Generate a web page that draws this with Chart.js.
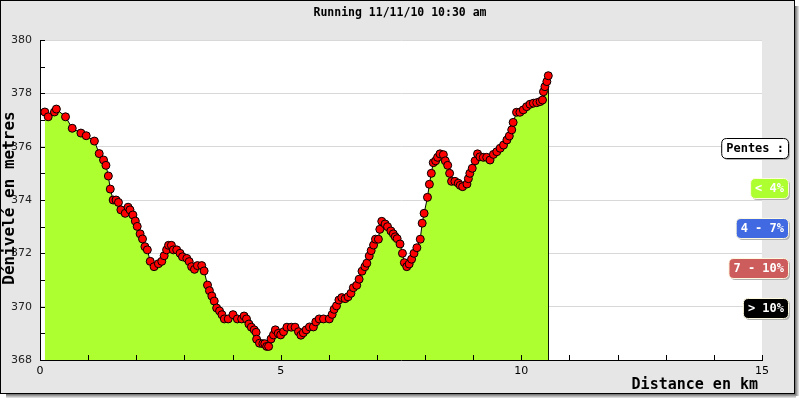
<!DOCTYPE html>
<html>
<head>
<meta charset="utf-8">
<script src="https://cdn.jsdelivr.net/npm/chart.js@4"></script>
<style>
  body { margin: 0; background: #fff; }
  #wrap { width: 800px; height: 400px; }
</style>
</head>
<body>
<div id="wrap"><canvas id="myChart" width="800" height="400"></canvas></div>
<script>
const distanceKm = [
  0.10, 0.17, 0.30, 0.34, 0.53, 0.67, 0.85, 0.96, 1.13, 1.23, 1.32, 1.37, 1.42, 1.46, 1.52, 1.58,
  1.63, 1.68, 1.77, 1.83, 1.87, 1.93, 1.98, 2.02, 2.08, 2.13, 2.18, 2.23, 2.29, 2.37, 2.46, 2.53,
  2.58, 2.63, 2.67, 2.73, 2.77, 2.84, 2.91, 2.96, 3.05, 3.10, 3.15, 3.21, 3.27, 3.36, 3.41, 3.48,
  3.52, 3.57, 3.62, 3.67, 3.73, 3.78, 3.83, 3.91, 4.01, 4.10, 4.19, 4.24, 4.29, 4.34, 4.39, 4.45,
  4.49, 4.50, 4.56, 4.63, 4.67, 4.71, 4.75, 4.80, 4.85, 4.89, 4.95, 5.00, 5.06, 5.13, 5.22, 5.30,
  5.37, 5.42, 5.47, 5.53, 5.60, 5.68, 5.73, 5.80, 5.89, 6.01, 6.07, 6.11, 6.16, 6.21, 6.27, 6.34,
  6.40, 6.46, 6.51, 6.58, 6.63, 6.69, 6.75, 6.79, 6.84, 6.88, 6.93, 6.97, 7.03, 7.06, 7.10, 7.17,
  7.22, 7.29, 7.34, 7.38, 7.42, 7.48, 7.53, 7.57, 7.62, 7.67, 7.72, 7.77, 7.83, 7.90, 7.94, 7.98,
  8.05, 8.09, 8.13, 8.17, 8.22, 8.26, 8.31, 8.38, 8.42, 8.47, 8.51, 8.55, 8.62, 8.69, 8.73, 8.78,
  8.87, 8.90, 8.93, 8.98, 9.04, 9.09, 9.14, 9.21, 9.28, 9.35, 9.42, 9.49, 9.56, 9.63, 9.70, 9.75,
  9.80, 9.83, 9.90, 9.97, 10.04, 10.11, 10.18, 10.25, 10.32, 10.39, 10.44, 10.46, 10.49, 10.53, 10.56
];
const altitudeM = [
  377.30, 377.12, 377.30, 377.41, 377.12, 376.69, 376.51, 376.41, 376.21, 375.74, 375.50, 375.30, 374.90, 374.41, 374.00, 374.00,
  373.91, 373.63, 373.50, 373.73, 373.63, 373.44, 373.21, 373.01, 372.73, 372.54, 372.25, 372.13, 371.70, 371.50, 371.61, 371.70,
  371.91, 372.13, 372.30, 372.30, 372.13, 372.13, 372.00, 371.87, 371.81, 371.69, 371.50, 371.40, 371.54, 371.54, 371.34, 370.81,
  370.60, 370.40, 370.21, 369.95, 369.84, 369.70, 369.54, 369.54, 369.70, 369.54, 369.54, 369.65, 369.54, 369.35, 369.23, 369.13,
  369.04, 368.78, 368.63, 368.61, 368.61, 368.51, 368.51, 368.79, 368.94, 369.13, 369.00, 368.94, 369.06, 369.23, 369.23, 369.23,
  369.06, 368.93, 369.02, 369.13, 369.24, 369.24, 369.43, 369.54, 369.54, 369.54, 369.71, 369.90, 370.03, 370.25, 370.34, 370.30,
  370.37, 370.50, 370.71, 370.80, 371.03, 371.33, 371.50, 371.63, 371.90, 372.10, 372.31, 372.53, 372.53, 372.90, 373.20, 373.10,
  373.00, 372.84, 372.73, 372.62, 372.55, 372.35, 372.00, 371.65, 371.50, 371.60, 371.78, 372.00, 372.21, 372.53, 373.13, 373.50,
  374.10, 374.59, 375.00, 375.40, 375.47, 375.60, 375.73, 375.70, 375.47, 375.30, 375.00, 374.70, 374.70, 374.63, 374.55, 374.50,
  374.60, 374.80, 375.00, 375.19, 375.47, 375.73, 375.62, 375.60, 375.60, 375.50, 375.71, 375.81, 375.94, 376.06, 376.25, 376.40,
  376.63, 376.91, 377.29, 377.29, 377.38, 377.50, 377.59, 377.63, 377.65, 377.69, 377.75, 378.06, 378.25, 378.44, 378.66
];

// axes
const xMin = 0, xMax = 15;
const yMin = 368, yMax = 380;

// legende des pentes
const slopeLabels = ['< 4%', '4 - 7%', '7 - 10%', '> 10%'];
const slopeColors = ['#adff2f', '#4169e1', '#cd5c5c', '#000000'];

const points = distanceKm.map((d, i) => ({ x: d, y: altitudeM[i] }));
const last = points[points.length - 1];

const MONO = '"DejaVu Sans Mono", "Liberation Mono", monospace';

function roundRect(ctx, x, y, w, h, r) {
  ctx.beginPath();
  ctx.moveTo(x + r, y);
  ctx.lineTo(x + w - r, y);
  ctx.quadraticCurveTo(x + w, y, x + w, y + r);
  ctx.lineTo(x + w, y + h - r);
  ctx.quadraticCurveTo(x + w, y + h, x + w - r, y + h);
  ctx.lineTo(x + r, y + h);
  ctx.quadraticCurveTo(x, y + h, x, y + h - r);
  ctx.lineTo(x, y + r);
  ctx.quadraticCurveTo(x, y, x + r, y);
  ctx.closePath();
}

// fond gris, cadre et ombre
const framePlugin = {
  id: 'frame',
  beforeDraw(chart) {
    const ctx = chart.ctx;
    const a = chart.chartArea;
    ctx.save();
    ctx.fillStyle = '#ffffff';
    ctx.fillRect(0, 0, 800, 400);
    // ombre
    const shades = ['#7a7a7a', '#9a9a9a', '#bbbbbb', '#dadada'];
    shades.forEach((c, i) => {
      ctx.fillStyle = c;
      ctx.fillRect(795 + i, 6, 1, 390);
      ctx.fillRect(6, 394 + i, 790, 1);
    });
    ctx.fillStyle = '#e6e6e6';
    ctx.fillRect(0, 0, 794, 393);
    ctx.strokeStyle = '#000';
    ctx.lineWidth = 1;
    ctx.strokeRect(0.5, 0.5, 794, 393);
    ctx.fillStyle = '#ffffff';
    ctx.fillRect(a.left, a.top, a.right - a.left, a.bottom - a.top);
    ctx.restore();
  },
  afterDatasetsDraw(chart) {
    const ctx = chart.ctx;
    const a = chart.chartArea;
    const xs = chart.scales.x, ys = chart.scales.y;
    ctx.save();
    ctx.strokeStyle = '#000';
    ctx.lineWidth = 1;
    ctx.beginPath();
    for (let v = yMin; v <= yMax; v++) {
      const py = Math.round(ys.getPixelForValue(v)) + 0.5;
      ctx.moveTo(a.left, py);
      ctx.lineTo(a.left + 5, py);
    }
    for (let v = xMin; v <= xMax; v++) {
      const px = Math.round(xs.getPixelForValue(v)) + 0.5;
      ctx.moveTo(px, a.bottom);
      ctx.lineTo(px, a.bottom - 5);
    }
    ctx.stroke();

    // titres
    ctx.fillStyle = '#000';
    ctx.font = 'bold 11.5px ' + MONO;
    ctx.textAlign = 'center';
    ctx.textBaseline = 'middle';
    ctx.fillText('Running 11/11/10 10:30 am', 400, 13);

    ctx.font = 'bold 15px ' + MONO;
    ctx.textAlign = 'right';
    ctx.fillText('Distance en km', 758, 385);

    ctx.save();
    ctx.translate(10, 198);
    ctx.rotate(-Math.PI / 2);
    ctx.font = 'bold 16px ' + MONO;
    ctx.textAlign = 'center';
    ctx.fillText('Dénivelé en metres', 0, 0);
    ctx.restore();

    // legende
    const items = [{ text: 'Pentes :', bg: '#ffffff', fg: '#000', border: '#000' }]
      .concat(slopeLabels.map((t, i) => ({ text: t, bg: slopeColors[i], fg: '#fff', border: '#fffbe0' })));
    ctx.font = 'bold 12px ' + MONO;
    ctx.textAlign = 'right';
    items.forEach((it, i) => {
      const w = ctx.measureText(it.text).width + 9;
      const h = 20;
      const right = 788;
      const top = 138 + i * 40;
      roundRect(ctx, right - w + 2, top + 2, w, h, 5);
      ctx.fillStyle = '#b0b0b0';
      ctx.fill();
      roundRect(ctx, right - w + 0.5, top + 0.5, w, h, 5);
      ctx.fillStyle = it.bg;
      ctx.fill();
      ctx.strokeStyle = it.border;
      ctx.lineWidth = 1;
      ctx.stroke();
      ctx.fillStyle = it.fg;
      ctx.fillText(it.text, right - 4, top + h / 2 + 1);
    });
    ctx.restore();
  }
};

const config = {
  type: 'line',
  data: {
    datasets: [
      {
        data: points,
        borderColor: '#000',
        borderWidth: 1,
        backgroundColor: '#adff2f',
        fill: 'start',
        tension: 0,
        pointRadius: 4,
        pointBackgroundColor: '#ff0000',
        pointBorderColor: '#000',
        pointBorderWidth: 1
      },
      {
        // bord vertical de la zone
        data: [last, { x: last.x, y: yMin }],
        borderColor: '#000',
        borderWidth: 1,
        pointRadius: 0,
        fill: false
      }
    ]
  },
  options: {
    responsive: false,
    animation: false,
    layout: { padding: { top: 40, right: 38, left: 0, bottom: 0 } },
    plugins: { legend: { display: false }, tooltip: { enabled: false } },
    scales: {
      x: {
        type: 'linear',
        min: xMin,
        max: xMax,
        afterFit: s => { s.height = 40; },
        grid: { display: false, drawTicks: false },
        border: { display: true, color: '#000', width: 1 },
        ticks: {
          stepSize: 1,
          autoSkip: false,
          maxRotation: 0,
          padding: 5,
          color: '#000',
          font: { family: 'DejaVu Sans', size: 11 },
          callback: v => (v % 5 === 0 ? v : '')
        }
      },
      y: {
        min: yMin,
        max: yMax,
        afterFit: s => { s.width = 40; },
        grid: {
          drawTicks: false,
          color: c => (c.tick && c.tick.value % 2 === 0 && c.tick.value !== yMin ? '#d8d8d8' : 'rgba(0,0,0,0)')
        },
        border: { display: true, color: '#000', width: 1 },
        ticks: {
          stepSize: 1,
          autoSkip: false,
          padding: 8,
          color: '#222',
          font: { family: 'DejaVu Sans', size: 11 },
          callback: v => (v % 2 === 0 ? v : '')
        }
      }
    }
  },
  plugins: [framePlugin]
};

const myChart = new Chart(document.getElementById('myChart'), config);
</script>
</body>
</html>
